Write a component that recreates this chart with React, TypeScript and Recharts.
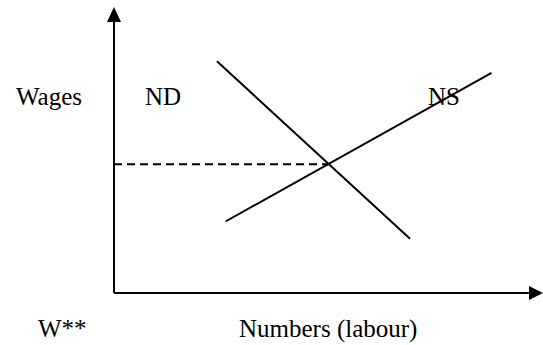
import React from 'react';
import { LineChart, Line, XAxis, YAxis, ReferenceLine, ReferenceDot } from 'recharts';

// Demand curve ND (numbers, wages)
const ndCurve = [
  { x: 24, y: 81 },
  { x: 69, y: 19 },
];
// Supply curve NS
const nsCurve = [
  { x: 26, y: 25 },
  { x: 88, y: 77 },
];
// Equilibrium point
const equilibrium = { x: 50, y: 45 };
const axisEnd = { x: 100, y: 100 };

const labels = [
  { text: 'Wages', x: 16, y: 105 },
  { text: 'ND', x: 145, y: 105 },
  { text: 'NS', x: 428, y: 105 },
  { text: 'W**', x: 38, y: 337 },
  { text: 'Numbers (labour)', x: 239, y: 337 },
];

const W = 543;
const H = 345;

const ArrowUp = (props: any) => {
  const { cx, cy } = props;
  return <polygon points={`${cx},${cy} ${cx - 7},${cy + 15} ${cx + 7},${cy + 15}`} fill="#000" />;
};
const ArrowRight = (props: any) => {
  const { cx, cy } = props;
  return <polygon points={`${cx},${cy} ${cx - 14},${cy - 7} ${cx - 14},${cy + 7}`} fill="#000" />;
};

const serif = "'Liberation Serif', 'DejaVu Serif Condensed', 'DejaVu Serif', serif";

export default function App() {
  return (
    <div style={{ position: 'absolute', left: 0, top: 0, width: W, height: H, background: '#fff' }}>
      <LineChart width={W} height={H} margin={{ top: 7, right: 0, bottom: 52, left: 114 }}>
        <XAxis type="number" dataKey="x" domain={[0, axisEnd.x]} hide allowDataOverflow />
        <YAxis type="number" dataKey="y" domain={[0, axisEnd.y]} hide allowDataOverflow />
        <ReferenceLine
          segment={[{ x: 0, y: 0 }, { x: 0, y: axisEnd.y - 3 }]}
          stroke="#000"
          strokeWidth={2}
          ifOverflow="visible"
        />
        <ReferenceLine
          segment={[{ x: 0, y: 0 }, { x: axisEnd.x - 2, y: 0 }]}
          stroke="#000"
          strokeWidth={2}
          ifOverflow="visible"
        />
        <ReferenceLine
          segment={[{ x: 0, y: equilibrium.y }, { x: equilibrium.x, y: equilibrium.y }]}
          stroke="#000"
          strokeWidth={2}
          strokeDasharray="8 5"
          ifOverflow="visible"
        />
        <Line data={ndCurve} dataKey="y" type="linear" stroke="#000" strokeWidth={2} dot={false} isAnimationActive={false} />
        <Line data={nsCurve} dataKey="y" type="linear" stroke="#000" strokeWidth={2} dot={false} isAnimationActive={false} />
        <ReferenceDot x={0} y={axisEnd.y} r={0} shape={ArrowUp} ifOverflow="visible" />
        <ReferenceDot x={axisEnd.x} y={0} r={0} shape={ArrowRight} ifOverflow="visible" />
      </LineChart>
      <svg width={W} height={H} style={{ position: 'absolute', left: 0, top: 0, pointerEvents: 'none' }}>
        {labels.map((l) => (
          <text key={l.text} x={l.x} y={l.y} style={{ fontFamily: serif, fontSize: 25, fontStretch: 'condensed' }} fill="#000">
            {l.text}
          </text>
        ))}
      </svg>
    </div>
  );
}
